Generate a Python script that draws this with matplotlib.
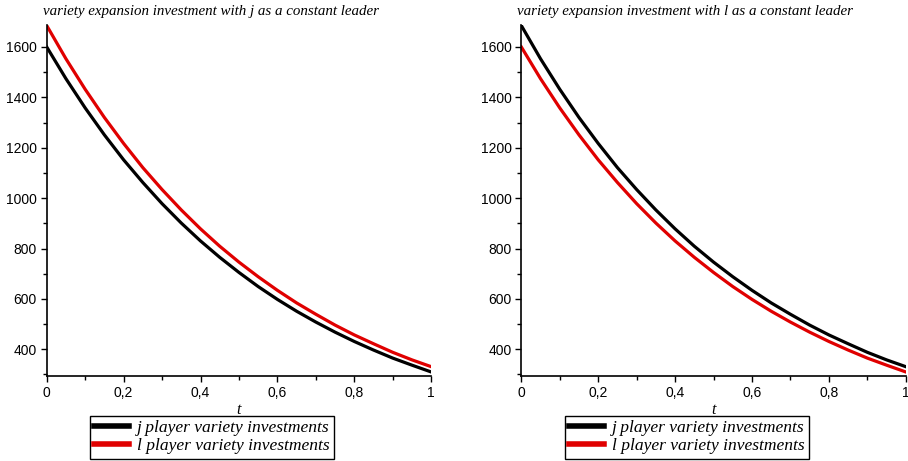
import matplotlib
matplotlib.use("Agg")
import matplotlib.pyplot as plt
from matplotlib.ticker import MultipleLocator, FuncFormatter

# time grid and investment paths
t = [0.0, 0.05, 0.1, 0.15, 0.2, 0.25, 0.3, 0.35, 0.4, 0.45, 0.5,
     0.55, 0.6, 0.65, 0.7, 0.75, 0.8, 0.85, 0.9, 0.95, 1.0]
leader_invest = [1600, 1474, 1358, 1251, 1152, 1062, 978, 901, 830, 765, 705,
                 649, 598, 551, 508, 468, 431, 397, 365, 337, 310]
follower_invest = [1685, 1553, 1432, 1320, 1217, 1121, 1034, 953, 878, 809, 746,
                   688, 634, 584, 539, 496, 457, 422, 388, 358, 331]

titles = ["variety expansion investment with j as a constant leader",
          "variety expansion investment with l as a constant leader"]
legend_labels = ["j player variety investments", "l player variety investments"]
x_label = "t"

# panel 1: j leads; panel 2: l leads
panels = [
    (leader_invest, follower_invest),   # (j series, l series)
    (follower_invest, leader_invest),
]

serif_it = dict(family="Liberation Serif", style="italic")
tick_font = ["Liberation Sans Narrow", "Liberation Sans", "DejaVu Sans"]

fig = plt.figure(figsize=(9.08, 4.61), dpi=100)
W, H = 908, 461

ax_left_px = [46.7, 521.3]
ax_w_px = 384.5
ax_bottom_px = 376
ax_top_px = 25
legend_left_px = [90, 565]

for i, (j_vals, l_vals) in enumerate(panels):
    ax = fig.add_axes([ax_left_px[i] / W, 1 - ax_bottom_px / H,
                       ax_w_px / W, (ax_bottom_px - ax_top_px) / H])
    ax.plot(t, j_vals, color="black", lw=2.3, label=legend_labels[0],
            solid_joinstyle="round")
    ax.plot(t, l_vals, color="#e00000", lw=2.3, label=legend_labels[1],
            solid_joinstyle="round")
    ax.set_xlim(0, 1)
    ax.set_ylim(294, 1687)
    for s in ("top", "right"):
        ax.spines[s].set_visible(False)
    for s in ("left", "bottom"):
        ax.spines[s].set_linewidth(1.2)
    ax.xaxis.set_major_locator(MultipleLocator(0.2))
    ax.xaxis.set_minor_locator(MultipleLocator(0.1))
    ax.yaxis.set_major_locator(MultipleLocator(200))
    ax.yaxis.set_minor_locator(MultipleLocator(100))
    ax.xaxis.set_major_formatter(FuncFormatter(
        lambda v, p: "0" if abs(v) < 1e-9 else ("1" if abs(v - 1) < 1e-9 else f"{v:.1f}".replace(".", ","))))
    ax.tick_params(axis="both", which="major", length=4, width=1, pad=3,
                   labelsize=10, direction="out")
    ax.tick_params(axis="both", which="minor", length=3, width=1, direction="out")
    for lab in ax.get_xticklabels() + ax.get_yticklabels():
        lab.set_family(tick_font)
    ax.set_xlabel(x_label, fontsize=11.5, labelpad=2, **serif_it)
    fig.text((ax_left_px[i] - 4) / W, 1 - 12 / H, titles[i], ha="left",
             va="center", fontsize=10.8, **serif_it)
    leg = ax.legend(loc="upper left",
                    bbox_to_anchor=(legend_left_px[i] / W, 1 - 415.5 / H),
                    bbox_transform=fig.transFigure, borderaxespad=0,
                    frameon=True, fancybox=False, edgecolor="black",
                    framealpha=1, prop=dict(family="Liberation Serif",
                                            style="italic", size=12.6),
                    handlelength=2.0, handletextpad=0.45, borderpad=0.25,
                    labelspacing=0.12)
    leg.get_frame().set_linewidth(1.0)
    for line in leg.get_lines():
        line.set_linewidth(4)

fig.savefig("out.png", dpi=100)
